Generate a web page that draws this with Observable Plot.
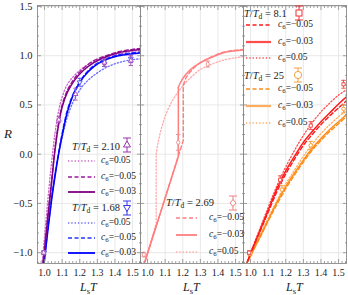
<!DOCTYPE html>
<html><head><meta charset="utf-8">
<script src="https://cdn.jsdelivr.net/npm/d3@7"></script>
<script src="https://cdn.jsdelivr.net/npm/@observablehq/plot@0.6"></script>
<style>
body{margin:0;background:#fff;}
#chart{position:relative;width:348px;height:295px;overflow:hidden;font-family:"Liberation Serif","DejaVu Serif",serif;color:#222;}
#chart svg.pl{position:absolute;left:0;top:0;}
.t{position:absolute;white-space:nowrap;line-height:1;}
.t sub{font-size:0.72em;vertical-align:-0.3em;line-height:0;}
.lg{position:absolute;}
</style></head><body><div id="chart"></div>
<script>
const serif = "'Liberation Serif','DejaVu Serif',serif";
// ticks
const xMajor = [1.0, 1.1, 1.2, 1.3, 1.4, 1.5];
const xTickLabels = ["1.0", "1.1", "1.2", "1.3", "1.4", "1.5"];
const xMinor = [0.96,0.98,1.02,1.04,1.06,1.08,1.12,1.14,1.16,1.18,1.22,1.24,1.26,1.28,1.32,1.34,1.36,1.38,1.42,1.44,1.46,1.48,1.52,1.54];
const yMajor = [-1.0, -0.5, 0.0, 0.5, 1.0, 1.5];
const yTickLabels = ["\u22121.0", "\u22120.5", "0.0", "0.5", "1.0", "1.5"];
const yMinor = [-1.1,-0.9,-0.8,-0.7,-0.6,-0.4,-0.3,-0.2,-0.1,0.1,0.2,0.3,0.4,0.6,0.7,0.8,0.9,1.1,1.2,1.3,1.4];

// Panel 1 : T/Td = 2.10 and 1.68
const p1L      = [0.98,1.00,1.02,1.04,1.06,1.08,1.10,1.13,1.17,1.22,1.28,1.35,1.42,1.50,1.55];
const r210_m003 = [-1.32,-0.98,-0.62,-0.29,0.05,0.30,0.48,0.63,0.75,0.85,0.93,0.99,1.03,1.055,1.065];
const r210_m005 = [-1.30,-0.96,-0.60,-0.27,0.07,0.32,0.50,0.65,0.77,0.87,0.95,1.00,1.04,1.065,1.075];
const r210_p005 = [-1.22,-0.84,-0.44,-0.08,0.22,0.44,0.58,0.71,0.80,0.88,0.94,0.99,1.02,1.045,1.055];
const r168_m003 = [-1.38,-1.07,-0.76,-0.47,-0.22,0.00,0.19,0.43,0.63,0.78,0.89,0.96,1.00,1.02,1.03];
const r168_m005 = [-1.36,-1.05,-0.74,-0.45,-0.20,0.02,0.21,0.45,0.64,0.79,0.90,0.97,1.01,1.03,1.04];
const r168_p005 = [-1.30,-0.99,-0.69,-0.42,-0.19,0.01,0.17,0.38,0.56,0.70,0.80,0.88,0.93,0.96,0.97];
const m210L = [0.995,1.081,1.176,1.34,1.49];
const m210R = [-1.00,0.35,0.61,0.93,0.95];
const m210E = [0.02,0.03,0.06,0.04,0.05];
const m168L = [0.997,1.20,1.34,1.49];
const m168R = [-1.00,0.73,0.92,0.97];
const m168E = [0.02,0.04,0.03,0.04];

// Panel 2 : T/Td = 2.69
const p2SolidLowL = [0.975,1.175,1.175];
const p2SolidLowR = [-1.15,-0.02,0.68];
const p2SolidUpL  = [1.175,1.197,1.244,1.301,1.358,1.432,1.50,1.55];
const p2SolidUpR  = [0.68,0.76,0.86,0.93,0.98,1.03,1.05,1.06];
const p2DashLowL  = [0.975,1.203,1.203];
const p2DashLowR  = [-1.15,0.14,0.70];
const p2DashUpL   = [1.203,1.22,1.26,1.30,1.36,1.43,1.50,1.55];
const p2DashUpR   = [0.70,0.78,0.87,0.93,0.985,1.035,1.055,1.065];
const p2DotLowL   = [0.975,1.049,1.049];
const p2DotLowR   = [-1.15,-0.70,0.0];
const p2DotUpL    = [1.049,1.06,1.08,1.11,1.15,1.19,1.24,1.30,1.36,1.42,1.50,1.55];
const p2DotUpR    = [0.0,0.12,0.27,0.43,0.57,0.67,0.77,0.86,0.91,0.95,0.98,0.99];
const m269L = [0.979,1.174,1.342];
const m269R = [-1.02,0.12,0.915];
const m269E = [0.02,0.08,0.03];

// Panel 3 : T/Td = 8.1 and 25
const p3L      = [0.97,1.00,1.05,1.10,1.15,1.20,1.25,1.30,1.35,1.40,1.45,1.50,1.55];
const r81_m003 = [-1.15,-1.01,-0.79,-0.57,-0.35,-0.17,-0.02,0.12,0.23,0.33,0.42,0.51,0.59];
const r81_m005 = [-1.15,-1.01,-0.80,-0.59,-0.38,-0.20,-0.05,0.09,0.20,0.30,0.39,0.47,0.55];
const r81_p005 = [-1.15,-1.00,-0.77,-0.54,-0.32,-0.13,0.04,0.19,0.32,0.43,0.52,0.60,0.66];
const r25_m003 = [-1.14,-1.03,-0.85,-0.67,-0.49,-0.33,-0.19,-0.06,0.06,0.16,0.25,0.33,0.41];
const r25_m005 = [-1.14,-1.03,-0.86,-0.68,-0.51,-0.35,-0.21,-0.08,0.04,0.14,0.23,0.31,0.39];
const r25_p005 = [-1.14,-1.02,-0.83,-0.65,-0.47,-0.30,-0.16,-0.02,0.10,0.21,0.30,0.38,0.45];
const m81L = [0.992,1.168,1.342,1.528];
const m81R = [-1.00,-0.26,0.29,0.71];
const m81E = [0.02,0.04,0.04,0.04];
const m25L = [0.998,1.178,1.342,1.528];
const m25R = [-1.01,-0.36,0.09,0.46];
const m25E = [0.02,0.04,0.04,0.04];

// colours
const C = {
  pu: "#800080", puD: "#9a1a9a", puT: "#cc66cc",
  bl: "#0000ff", blD: "#2233ff", blT: "#6b6bff",
  pk: "#ff7f7f", pkT: "#ffa8a8",
  rd: "#ff1a1a", rdT: "#ff4d4d",
  or: "#ff8c1a", orT: "#ffad5c"
};
const DOT = "1.3,2", DASH = "4,2.5";

const chart = document.getElementById("chart");
const rows = (L, R) => L.map((l, i) => ({L: l, R: R[i]}));
const line = (L, R, stroke, dash, w = 1.4, curve = "catmull-rom") =>
  Plot.line(rows(L, R), {x: "L", y: "R", stroke, strokeWidth: w, strokeDasharray: dash, curve, clip: true});
const capSym = {draw(ctx, size) { const w = Math.sqrt(size / Math.PI); ctx.moveTo(-w, 0); ctx.lineTo(w, 0); }};
function markers(L, R, E, color, symbol, rotate = 0) {
  const d = L.map((l, i) => ({L: l, R: R[i], lo: R[i] - E[i], hi: R[i] + E[i]}));
  return [
    Plot.ruleX(d, {x: "L", y1: "lo", y2: "hi", stroke: color, strokeWidth: 1, clip: true}),
    Plot.dot(d, {x: "L", y: "lo", symbol: capSym, r: 2.2, stroke: color, strokeWidth: 1, clip: true}),
    Plot.dot(d, {x: "L", y: "hi", symbol: capSym, r: 2.2, stroke: color, strokeWidth: 1, clip: true}),
    Plot.dot(d, {x: "L", y: "R", symbol, r: 1.8, stroke: color, fill: "white", strokeWidth: 1, rotate, clip: true})
  ];
}

function panel(ml, mr, content, yLabels) {
  const ax = {stroke: "#8a8a8a", fill: "none", strokeWidth: 0.8};
  const marks = [
    Plot.gridX(xMajor, {stroke: "#e2e2e2", strokeOpacity: 1, strokeWidth: 0.8}),
    Plot.gridY(yMajor, {stroke: "#e2e2e2", strokeOpacity: 1, strokeWidth: 0.8}),
    ...content,
    Plot.frame({stroke: "#8a8a8a", strokeWidth: 0.9}),
    Plot.axisX(xMajor, {anchor: "bottom", tickSize: -4, ...ax}),
    Plot.axisX(xMinor, {anchor: "bottom", tickSize: -2, ...ax}),
    Plot.axisX(xMajor, {anchor: "top", tickSize: -4, ...ax}),
    Plot.axisX(xMinor, {anchor: "top", tickSize: -2, ...ax}),
    Plot.axisY(yMajor, {anchor: "left", tickSize: -4, ...ax}),
    Plot.axisY(yMinor, {anchor: "left", tickSize: -2, ...ax}),
    Plot.axisY(yMajor, {anchor: "right", tickSize: -4, ...ax}),
    Plot.axisY(yMinor, {anchor: "right", tickSize: -2, ...ax}),
    Plot.axisX(xMajor, {anchor: "bottom", tickSize: 0, tickPadding: 5, label: null,
      tickFormat: (d, i) => xTickLabels[i], fontSize: 10, fontFamily: serif, fill: "#222"})
  ];
  if (yLabels) marks.push(Plot.axisY(yMajor, {anchor: "left", tickSize: 0, tickPadding: 5, label: null,
      tickFormat: (d, i) => yTickLabels[i], fontSize: 10.5, fontFamily: serif, fill: "#222"}));
  const svg = Plot.plot({
    width: 348, height: 295, marginLeft: ml, marginRight: mr, marginTop: 5, marginBottom: 32,
    x: {domain: [0.96, 1.545], label: null}, y: {domain: [-1.11, 1.51], label: null},
    style: {background: "transparent", overflow: "visible"},
    marks
  });
  svg.classList.add("pl");
  chart.appendChild(svg);
}

// Panel 1
panel(37, 208, [
  line(p1L, r168_p005, C.blT, DOT, 1.3),
  line(p1L, r168_m005, C.blD, DASH, 1.4),
  line(p1L, r168_m003, C.bl, null, 1.5),
  line(p1L, r210_p005, C.puT, DOT, 1.3),
  line(p1L, r210_m005, C.puD, DASH, 1.4),
  line(p1L, r210_m003, C.pu, null, 1.5),
  ...markers(m168L, m168R, m168E, "#5555ee", "triangle", 180),
  ...markers(m210L, m210R, m210E, "#aa55bb", "triangle")
], true);

// Panel 2
panel(140, 105, [
  line(p2DotLowL, p2DotLowR, C.pkT, DOT, 1.3, "linear"),
  line(p2DotUpL, p2DotUpR, C.pkT, DOT, 1.3),
  line(p2DashLowL, p2DashLowR, C.pk, DASH, 1.4, "linear"),
  line(p2DashUpL, p2DashUpR, C.pk, DASH, 1.4),
  line(p2SolidLowL, p2SolidLowR, C.pk, null, 1.5, "linear"),
  line(p2SolidUpL, p2SolidUpR, C.pk, null, 1.5),
  ...markers(m269L, m269R, m269E, "#f09090", "diamond")
], false);

// Panel 3
panel(243, 2, [
  line(p3L, r25_p005, C.orT, DOT, 1.3),
  line(p3L, r25_m005, C.or, DASH, 1.4),
  line(p3L, r25_m003, C.or, null, 1.5),
  line(p3L, r81_p005, C.rdT, DOT, 1.3),
  line(p3L, r81_m005, C.rd, DASH, 1.4),
  line(p3L, r81_m003, C.rd, null, 1.5),
  ...markers(m25L, m25R, m25E, "#f5a040", "circle"),
  ...markers(m81L, m81R, m81E, "#f05050", "square")
], false);

// ---------- text and legends ----------
function addText(html, left, cy, size, italic = false) {
  const d = document.createElement("div");
  d.className = "t";
  d.style.left = left + "px";
  d.style.top = (cy - size * 0.5) + "px";
  d.style.fontSize = size + "px";
  if (italic) d.style.fontStyle = "italic";
  d.innerHTML = html;
  chart.appendChild(d);
}
function sample(x1, x2, cy, color, dash, w) {
  const s = document.createElementNS("http://www.w3.org/2000/svg", "svg");
  s.setAttribute("class", "lg");
  s.setAttribute("width", x2 - x1); s.setAttribute("height", 6);
  s.style.left = x1 + "px"; s.style.top = (cy - 3) + "px";
  s.innerHTML = `<line x1="0" y1="3" x2="${x2 - x1}" y2="3" stroke="${color}" stroke-width="${w}" ${dash ? `stroke-dasharray="${dash}"` : ""}/>`;
  chart.appendChild(s);
}
function legendSym(cx, cy, color, shape) {
  const s = document.createElementNS("http://www.w3.org/2000/svg", "svg");
  s.setAttribute("class", "lg");
  s.setAttribute("width", 14); s.setAttribute("height", 18);
  s.style.left = (cx - 7) + "px"; s.style.top = (cy - 9) + "px";
  let m = "";
  if (shape === "tri") m = `<path d="M7,5 L10.5,11 L3.5,11 Z" fill="white" stroke="${color}"/>`;
  if (shape === "itri") m = `<path d="M7,12.5 L10.5,6.5 L3.5,6.5 Z" fill="white" stroke="${color}"/>`;
  if (shape === "circ") m = `<circle cx="7" cy="9" r="3.6" fill="white" stroke="${color}"/>`;
  if (shape === "sq") m = `<rect x="4" y="6" width="6" height="6" fill="white" stroke="${color}"/>`;
  if (shape === "dia") m = `<path d="M7,5.5 L10,9 L7,12.5 L4,9 Z" fill="white" stroke="${color}"/>`;
  s.innerHTML = `<line x1="7" y1="2" x2="7" y2="16" stroke="${color}"/><line x1="3" y1="2" x2="11" y2="2" stroke="${color}"/><line x1="3" y1="16" x2="11" y2="16" stroke="${color}"/>` + m;
  chart.appendChild(s);
}
const TT = v => `<i>T</i>/<i>T</i><sub>d</sub> = ${v}`;
const C6 = v => `<i>c</i><sub>6</sub>=${v}`;

// axis titles
addText("<i>R</i>", 4, 133, 13);
[89, 192, 295].forEach(cx => addText("<i>L</i><sub>s</sub><i>T</i>", cx - 9, 287, 12));

// panel 1 legend
addText(TT("2.10"), 72, 147, 10.5); legendSym(127, 145, "#9933aa", "tri");
sample(68, 95, 161, C.puT, DOT, 1.4); addText(C6("0.05"), 101, 161, 9.5);
sample(68, 95, 177, C.puD, DASH, 1.6); addText(C6("\u22120.05"), 101, 177, 9.5);
sample(68, 95, 192, C.pu, null, 1.8); addText(C6("\u22120.03"), 101, 192, 9.5);
addText(TT("1.68"), 72, 208, 10.5); legendSym(127, 208, "#3333ee", "itri");
sample(68, 95, 223, C.blT, DOT, 1.4); addText(C6("0.05"), 101, 223, 9.5);
sample(68, 95, 238, C.blD, DASH, 1.6); addText(C6("\u22120.05"), 101, 238, 9.5);
sample(68, 95, 253, C.bl, null, 1.8); addText(C6("\u22120.03"), 101, 253, 9.5);

// panel 2 legend
addText(TT("2.69"), 166, 203, 10.5); legendSym(233, 203, "#f08080", "dia");
sample(176, 197, 218, C.pk, DASH, 1.6); addText(C6("\u22120.05"), 209, 218, 9.5);
sample(176, 197, 235, C.pk, null, 1.8); addText(C6("\u22120.03"), 209, 235, 9.5);
sample(176, 197, 252, C.pkT, DOT, 1.4); addText(C6("0.05"), 209, 252, 9.5);

// panel 3 legend
addText(TT("8.1"), 244, 14, 10.5); legendSym(299, 13, "#ee3333", "sq");
sample(246, 271, 25, C.rd, DASH, 1.6); addText(C6("\u22120.05"), 278, 25, 9.5);
sample(246, 271, 42, C.rdT, null, 2.2); addText(C6("\u22120.03"), 278, 42, 9.5);
sample(246, 271, 58, C.rdT, DOT, 1.4); addText(C6("0.05"), 278, 58, 9.5);
addText(TT("25"), 244, 76, 10.5); legendSym(298, 75, "#f5a040", "circ");
sample(246, 271, 89, C.or, DASH, 1.6); addText(C6("\u22120.05"), 278, 89, 9.5);
sample(246, 271, 106, C.orT, null, 2.2); addText(C6("\u22120.03"), 278, 106, 9.5);
sample(246, 271, 123, C.orT, DOT, 1.4); addText(C6("0.05"), 278, 123, 9.5);
</script></body></html>
